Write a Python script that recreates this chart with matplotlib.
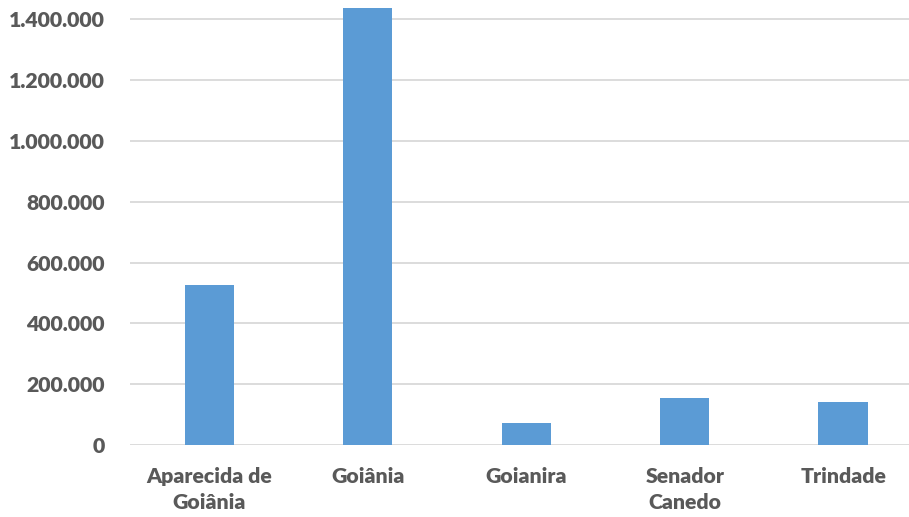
import matplotlib.pyplot as plt
from matplotlib.ticker import FuncFormatter

# municipality populations
cities = ['Aparecida de\nGoiânia', 'Goiânia', 'Goianira', 'Senador\nCanedo', 'Trindade']
population = [527000, 1436000, 71500, 154000, 140700]
yticks = [0, 200000, 400000, 600000, 800000, 1000000, 1200000, 1400000]

bar_color = '#5B9BD5'
grid_color = '#D9D9D9'
text_color = '#595959'

plt.rcParams['font.family'] = ['Lato', 'DejaVu Sans']

fig = plt.figure(figsize=(9.09, 5.17), dpi=100)
ax = fig.add_axes([130 / 909, 72 / 517, 1 - 130 / 909, 443.8 / 517])

x = range(len(cities))
ax.bar(x, population, width=0.312, color=bar_color, zorder=3)

ax.set_xlim(-0.5, 4.415)
ax.set_ylim(0, 1460000)
ax.set_yticks(yticks)
ax.yaxis.set_major_formatter(FuncFormatter(lambda v, p: f'{int(v):,}'.replace(',', '.')))
ax.set_xticks(list(x))
ax.set_xticklabels(cities)

# horizontal gridlines only
ax.grid(axis='y', color=grid_color, linewidth=1.3, zorder=0)
for s in ax.spines.values():
    s.set_visible(False)

ax.tick_params(axis='both', length=0, colors=text_color, labelsize=15.3)
ax.tick_params(axis='y', pad=18)
ax.tick_params(axis='x', pad=16)
for lbl in ax.get_xticklabels() + ax.get_yticklabels():
    lbl.set_fontweight('heavy')
    lbl.set_linespacing(1.42)

plt.savefig('out.png', dpi=100)
